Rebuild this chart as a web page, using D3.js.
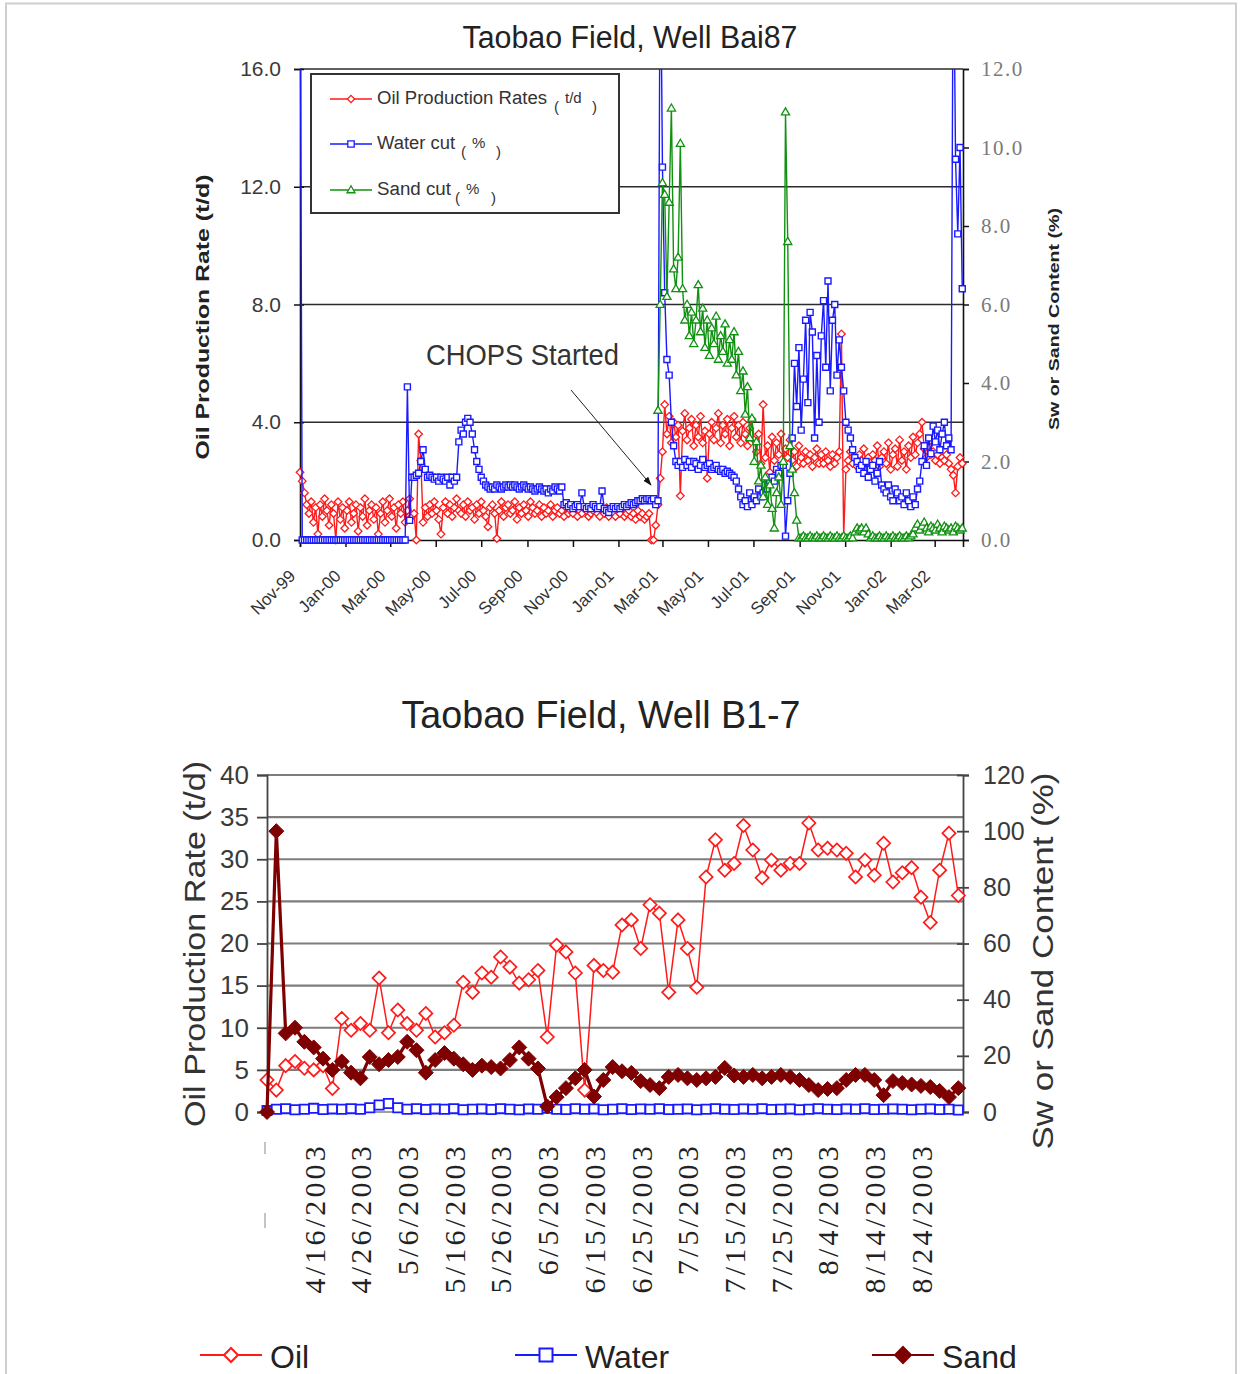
<!DOCTYPE html>
<html><head><meta charset="utf-8">
<script src="https://cdn.jsdelivr.net/npm/d3@7"></script>
<style>body{margin:0;background:#fff}svg{display:block}</style>
</head><body>
<svg id="c" width="1243" height="1374"></svg>
<script>
// ================= DATA: Taobao Field, Well Bai87 (sampled every 3 days from 1 Nov 1999) =================
const bai87Start = "1999-11-01";
const bai87StepDays = 3;
const bai87Oil = [
2.3,2.0,1.6,1.2,
0.9,1.3,0.6,1.1,0.2,1.2,0.8,1.4,1.0,0.5,
1.2,0.9,0.0,1.3,0.7,1.1,0.4,1.0,1.3,0.6,
0.9,1.2,0.3,1.1,0.8,1.4,0.5,1.0,1.2,0.7,
1.1,0.2,0.9,1.3,0.6,1.0,1.4,0.8,1.1,0.4,
1.2,0.9,1.3,0.6,1.0,1.4,0.8,
0.9,0.0,3.6,2.7,0.6,1.1,0.8,
1.2,0.9,1.3,1.0,0.7,0.2,1.1,1.3,0.9,1.2,
0.8,1.1,1.4,1.0,0.9,1.2,0.8,1.3,1.0,1.1,
0.7,1.2,0.9,1.3,1.0,0.8,0.45,1.1,1.2,0.9,
0.05,1.0,1.3,0.8,1.1,1.2,0.9,1.0,1.3,0.7,
1.1,0.9,1.2,1.0,0.8,1.3,1.1,0.9,1.0,1.2,
0.8,1.1,0.9,1.0,1.2,0.8,1.0,1.1,0.9,1.0,
0.8,1.1,0.9,
1.0,0.9,1.1,0.8,1.0,0.9,1.1,1.0,0.8,0.9,
1.0,1.1,0.9,0.8,1.0,0.9,1.1,0.8,1.0,0.9,
0.8,1.0,0.9,1.1,0.8,0.9,1.0,0.8,0.9,0.7,
1.0,0.8,0.9,0.7,0.8,0.9,
0.0,0.0,0.5,1.2,2.1,3.0,4.6,
3.6,4.2,3.3,4.0,3.5,3.9,1.5,3.7,4.3,3.4,
3.8,4.1,3.2,3.9,3.5,4.2,3.3,3.7,2.1,3.6,
4.0,3.4,3.8,4.3,3.3,3.9,3.6,4.1,3.2,3.8,
4.2,3.5,3.9,3.3,4.0,3.6,3.2,3.8,4.1,3.4,
3.0,3.6,2.6,
4.6,2.8,3.2,2.3,3.5,2.7,3.3,2.9,3.6,2.6,
3.1,2.8,3.4,2.7,3.0,2.5,3.2,2.8,2.6,3.0,
2.7,2.9,2.5,2.8,3.1,2.6,
2.9,2.6,3.0,2.7,2.5,2.9,2.6,2.8,3.0,
7.0,0.1,2.4,
2.7,3.0,2.6,2.8,2.5,2.9,2.7,3.1,2.6,2.8,
2.4,2.9,2.7,3.2,2.5,2.8,3.0,2.6,3.3,2.4,
2.9,3.1,2.5,3.4,2.7,3.0,2.4,3.2,2.8,3.5,
2.9,3.3,3.6,4.0,3.1,2.8,3.2,2.9,3.0,2.7,
2.9,2.6,2.8,2.7,2.9,2.6,2.4,2.2,1.6,2.5,
2.8,2.6
];
const bai87Water = [
16,
0,0,0,0,0,0,0,0,0,0,
0,0,0,0,0,0,0,0,0,0,
0,0,0,0,0,0,0,0,0,0,
0,0,0,0,0,0,0,0,0,0,
0,0,0,0,0,0,0,
3.9,0.5,1.6,
1.6,1.65,1.7,2.0,2.3,1.8,1.6,1.65,1.6,1.55,
1.6,1.5,1.6,1.55,1.5,1.6,1.4,1.6,1.5,1.6,
2.5,2.8,2.7,3.0,3.1,3.0,2.7,2.3,2.0,1.8,1.6,1.5,1.4,1.35,
1.3,1.35,1.3,1.4,1.35,1.3,1.35,1.4,1.35,1.4,
1.35,1.4,1.35,1.3,1.35,1.4,1.35,1.3,1.35,1.3,
1.25,1.3,1.35,1.3,1.25,1.3,1.2,1.3,1.25,1.35,
1.3,1.25,1.35,
0.9,0.95,0.85,0.9,0.8,0.85,0.9,0.85,1.2,0.85,
0.8,0.85,0.8,0.9,0.85,0.8,0.85,1.25,0.8,0.75,
0.7,0.8,0.85,0.8,0.85,0.8,0.85,0.9,0.85,0.9,
0.95,0.9,0.95,1.0,1.0,1.05,1.0,1.05,1.05,
1.0,1.05,0.9,1.0,16,9.5,6.3,4.6,4.2,3.0,2.4,2.0,
1.9,2.0,1.85,2.05,1.9,2.0,1.85,2.0,1.95,1.8,
1.9,2.05,1.85,1.9,1.95,1.8,1.85,1.9,1.8,1.75,
1.8,1.7,1.75,1.7,1.65,1.6,
1.5,1.3,1.1,0.9,1.0,0.85,1.2,0.9,1.1,1.0,
1.3,1.1,1.2,1.4,1.3,1.5,1.6,1.5,1.8,1.7,1.9,
1.9,0.1,1.0,1.7,
2.6,4.5,3.4,4.9,2.8,4.1,5.6,3.5,5.8,5.3,
2.6,4.7,3.0,5.2,6.1,4.4,6.6,3.8,5.6,6.0,4.2,5.1,
4.4,3.8,3.0,
2.8,2.6,2.3,2.1,2.0,1.8,1.9,1.7,2.0,1.6,1.8,1.9,1.5,1.7,2.0,1.4,
1.3,1.2,1.4,1.1,1.0,1.3,1.2,1.0,1.1,0.9,1.2,1.0,0.85,1.1,0.9,1.3,1.5,
2.0,2.4,1.9,2.6,2.2,2.9,2.5,2.8,2.3,2.7,3.0,2.4,2.6,
2.3,16,9.7,7.8,10.0,6.4
];
const bai87SandStartIndex = 160;
const bai87Sand = [
3.3,6.0,9.1,8.8,6.2,8.6,11.0,6.9,6.4,7.2,
10.1,6.4,5.6,6.0,5.2,5.8,5.0,5.6,6.5,5.3,
5.9,4.9,5.6,4.7,5.4,5.0,5.7,4.6,5.2,4.8,
5.5,4.5,5.1,4.6,5.3,4.2,4.8,3.8,4.3,3.2,
3.9,2.6,3.1,2.0,2.5,1.5,1.9,1.1,1.6,0.9,
1.4,0.8,0.3,1.2,1.6,0.9,2.0,10.9,7.6,2.4,
1.8,1.2,0.5,0.05,
0.05,0.1,0.05,0.05,0.1,0.05,0.05,0.1,0.05,0.05,0.1,0.05,
0.05,0.1,0.05,0.05,0.1,0.05,0.05,0.1,0.05,0.05,0.1,0.05,
0.2,0.3,0.25,0.3,0.2,0.3,0.15,
0.05,0.1,0.05,0.05,0.1,0.05,0.05,0.1,0.05,0.05,
0.1,0.05,0.05,0.1,0.05,0.05,0.1,0.05,0.1,0.15,
0.3,0.4,0.25,0.35,0.45,0.3,0.2,0.35,0.3,0.25,0.4,
0.3,0.2,0.35,0.3,0.25,0.3,0.2,0.35,0.3,0.25,0.3
];
const bai87DomainEnd = "2002-04-08";
const bai87TickLabels = ["Nov-99","Jan-00","Mar-00","May-00","Jul-00","Sep-00","Nov-00","Jan-01","Mar-01","May-01","Jul-01","Sep-01","Nov-01","Jan-02","Mar-02"];
const bai87LeftTicks = [0,4,8,12,16];
const bai87RightTicks = [0,2,4,6,8,10,12];

// ================= DATA: Taobao Field, Well B1-7 (sampled every 2 days from 6 Apr 2003) =================
const b17Start = "2003-04-06";
const b17StepDays = 2;
const b17Oil = [
3.8,2.6,5.5,6.0,5.2,5.0,5.5,2.8,11.1,9.7,
10.5,9.7,15.9,9.4,12.1,10.5,9.7,11.7,8.9,9.4,
10.3,15.4,14.2,16.5,16.0,18.4,17.2,15.3,15.7,16.8,
8.9,19.8,19.0,16.5,2.6,17.4,16.8,16.6,22.2,22.8,
19.4,24.6,23.6,14.2,22.8,19.4,14.8,27.9,32.3,28.7,
29.5,34.0,31.1,27.8,29.9,28.7,29.5,29.5,34.3,31.1,
31.3,31.1,30.7,27.9,29.9,28.1,31.9,27.3,28.4,29.0,
25.5,22.5,28.7,33.1,25.7
];
const b17Water = [
0.5,1.0,1.2,0.8,1.0,1.3,0.9,1.1,1.0,1.2,
1.0,1.5,2.5,3.0,1.5,1.0,1.2,0.9,1.1,1.0,
1.2,0.8,1.0,1.1,0.9,1.2,1.0,0.8,1.1,1.0,
1.3,1.0,0.9,1.2,1.0,1.1,0.8,1.0,1.2,0.9,
1.1,1.0,1.2,0.9,1.0,1.1,0.8,1.0,1.2,1.0,
0.9,1.1,1.0,1.2,0.9,1.0,1.1,0.8,1.0,1.2,
1.0,0.9,1.1,1.0,1.2,0.9,1.0,1.1,1.0,0.8,
1.0,1.1,0.9,1.0,0.7
];
const b17Sand = [
0,100,28,30,25,23,19,15,18,14,
12,19.6,17,18.5,19.6,25,22,14,18.5,21,
19,17,15,16.5,16,15.5,18.5,23,19,15.5,
2,5.3,8.5,12,15,5.5,11.4,16,14.5,13.9,
11,9.6,8.5,12.5,13.2,12,11.4,12,12.5,15.7,
13,12.5,13.2,12,12.5,13.2,12.5,11.4,9.6,7.8,
8.2,8.5,11.4,13.2,13.2,11.4,6,11,10.3,9.8,
9.3,8.9,7.5,5.3,8.5
];
const b17DomainDays = 149;
const b17DateLabels = ["4/16/2003","4/26/2003","5/6/2003","5/16/2003","5/26/2003","6/5/2003","6/15/2003","6/25/2003","7/5/2003","7/15/2003","7/25/2003","8/4/2003","8/14/2003","8/24/2003"];
const b17LeftTicks = [0,5,10,15,20,25,30,35,40];
const b17RightTicks = [0,20,40,60,80,100,120];

// ================= DRAWING =================
const SANS = "'Liberation Sans', Arial, sans-serif";
const SERIF = "'Liberation Serif', 'DejaVu Serif', serif";
const svg = d3.select("#c");

svg.append("rect").attr("x",6).attr("y",3.5).attr("width",1230).attr("height",1400)
  .attr("fill","none").attr("stroke","#cfcfcf").attr("stroke-width",2);

const dia = r => `M0,${-r}L${r},0L0,${r}L${-r},0Z`;
const sq = r => `M${-r},${-r}H${r}V${r}H${-r}Z`;
const tri = r => `M0,${-r}L${r*0.95},${r*0.65}L${-r*0.95},${r*0.65}Z`;

function drawSeries(g, data, x, y, o) {
  g.append("path").datum(data).attr("fill","none").attr("stroke",o.color)
    .attr("stroke-width",o.lw).attr("stroke-linejoin","round")
    .attr("d", d3.line().x(d=>x(d.date)).y(d=>y(d.v)));
  g.append("g").selectAll("path").data(data).enter().append("path")
    .attr("transform", d=>`translate(${x(d.date)},${y(d.v)})`)
    .attr("d", o.shape).attr("fill", o.fill).attr("stroke", o.color).attr("stroke-width", o.mlw);
}

// ---------- TOP CHART ----------
const T = {left:300, right:963, top:69, bottom:540};
const parseISO = d3.timeParse("%Y-%m-%d");
const t0 = parseISO(bai87Start);
const tx = d3.scaleTime().domain([t0, parseISO(bai87DomainEnd)]).range([T.left, T.right]);
const tyL = d3.scaleLinear().domain([0,16]).range([T.bottom, T.top]);
const tyR = d3.scaleLinear().domain([0,12]).range([T.bottom, T.top]);
const tDate = i => d3.timeDay.offset(t0, i*bai87StepDays);

const oilT = bai87Oil.map((v,i)=>({date:tDate(i), v}));
const waterT = bai87Water.map((v,i)=>({date:tDate(i), v}));
const sandT = bai87Sand.map((v,i)=>({date:tDate(i+bai87SandStartIndex), v}));

svg.append("text").attr("x",630).attr("y",48).attr("text-anchor","middle")
  .attr("font-family",SANS).attr("font-size",31).attr("fill","#222")
  .attr("textLength",335).attr("lengthAdjust","spacingAndGlyphs").text("Taobao Field, Well Bai87");

const gT = svg.append("g");
gT.selectAll("line.grid").data(bai87LeftTicks.filter(v=>v>0)).enter().append("line")
  .attr("x1",T.left).attr("x2",T.right).attr("y1",d=>tyL(d)).attr("y2",d=>tyL(d))
  .attr("stroke","#2b2b2b").attr("stroke-width",1.6);

const axL = gT.append("g").attr("transform",`translate(${T.left},0)`)
  .call(d3.axisLeft(tyL).tickValues(bai87LeftTicks).tickFormat(d3.format(".1f")).tickSize(6).tickPadding(13));
axL.select(".domain").attr("stroke","#111").attr("stroke-width",1.6);
axL.selectAll(".tick line").attr("stroke","#111").attr("stroke-width",1.5).attr("x2",-6).attr("x1",4);
axL.selectAll("text").attr("font-family",SANS).attr("font-size",21).attr("fill","#3a3a3a");

const axR = gT.append("g").attr("transform",`translate(${T.right},0)`)
  .call(d3.axisRight(tyR).tickValues(bai87RightTicks).tickFormat(d3.format(".1f")).tickSize(6).tickPadding(12));
axR.select(".domain").attr("stroke","#111").attr("stroke-width",1.6);
axR.selectAll(".tick line").attr("stroke","#111").attr("stroke-width",1.5);
axR.selectAll("text").attr("font-family",SERIF).attr("font-size",21).attr("fill","#7a7a7a")
  .attr("letter-spacing",1.5);

const monthParse = d3.timeParse("%b-%y");
const tickDates = bai87TickLabels.map(s=>monthParse(s));
const axB = gT.append("g").attr("transform",`translate(0,${T.bottom})`)
  .call(d3.axisBottom(tx).tickValues(tickDates).tickFormat((d,i)=>bai87TickLabels[i]).tickSize(7));
axB.select(".domain").attr("stroke","#111").attr("stroke-width",1.6);
axB.selectAll(".tick line").attr("stroke","#111").attr("stroke-width",1.5);
axB.selectAll("text").attr("font-family",SANS).attr("font-size",17).attr("fill","#333")
  .attr("text-anchor","end").attr("x",0).attr("y",0).attr("dy",0)
  .attr("transform","translate(-4,37) rotate(-45)");

// Axis titles
svg.append("text").attr("transform","translate(209,317) rotate(-90)").attr("text-anchor","middle")
  .attr("font-family",SANS).attr("font-weight","bold").attr("font-size",19).attr("fill","#222")
  .attr("textLength",285).attr("lengthAdjust","spacingAndGlyphs").text("Oil Production Rate (t/d)");
svg.append("text").attr("transform","translate(1059,319) rotate(-90)").attr("text-anchor","middle")
  .attr("font-family",SANS).attr("font-weight","bold").attr("font-size",15).attr("fill","#222")
  .attr("textLength",222).attr("lengthAdjust","spacingAndGlyphs").text("Sw or Sand Content (%)");

// clip
svg.append("defs").append("clipPath").attr("id","clipT").append("rect")
  .attr("x",T.left-5).attr("y",T.top).attr("width",T.right-T.left+10).attr("height",T.bottom-T.top+7);
const plotT = svg.append("g").attr("clip-path","url(#clipT)");
drawSeries(plotT, oilT, tx, tyL, {color:"#ff1a1a", lw:1.4, shape:dia(3.8), fill:"#fff", mlw:1.3});
drawSeries(plotT, waterT, tx, tyR, {color:"#1a1aff", lw:1.4, shape:sq(3.0), fill:"#fff", mlw:1.4});
drawSeries(plotT, sandT, tx, tyR, {color:"#119111", lw:1.4, shape:tri(4.3), fill:"#fff", mlw:1.3});

// Legend (top)
const lg = svg.append("g");
lg.append("rect").attr("x",311).attr("y",74).attr("width",308).attr("height",139)
  .attr("fill","#fff").attr("stroke","#333").attr("stroke-width",2);
const legT = [
  {name:"Oil Production Rates", unit:"t/d", color:"#ff1a1a", shape:dia(3.6), y:99, tl:170, ux:[554,565,592]},
  {name:"Water cut", unit:"%", color:"#1a1aff", shape:sq(3.2), y:144, tl:78, ux:[461,472,496]},
  {name:"Sand cut", unit:"%", color:"#119111", shape:tri(4.2), y:190, tl:74, ux:[455,466,491]}
];
legT.forEach(e=>{
  lg.append("line").attr("x1",330).attr("x2",372).attr("y1",e.y).attr("y2",e.y).attr("stroke",e.color).attr("stroke-width",1.5);
  lg.append("path").attr("transform",`translate(351,${e.y})`).attr("d",e.shape).attr("fill","#fff").attr("stroke",e.color).attr("stroke-width",1.3);
  lg.append("text").attr("x",377).attr("y",e.y+5).attr("font-family",SANS).attr("font-size",18).attr("fill","#333")
    .attr("textLength",e.tl).attr("lengthAdjust","spacingAndGlyphs").text(e.name);
  lg.append("text").attr("x",e.ux[0]).attr("y",e.y+13).attr("font-family",SANS).attr("font-size",15).attr("fill","#333").text("(");
  lg.append("text").attr("x",e.ux[1]).attr("y",e.y+4).attr("font-family",SANS).attr("font-size",15).attr("fill","#333").text(e.unit);
  lg.append("text").attr("x",e.ux[2]).attr("y",e.y+13).attr("font-family",SANS).attr("font-size",15).attr("fill","#333").text(")");
});

// Annotation
svg.append("defs").append("marker").attr("id","arr").attr("viewBox","0 0 10 10").attr("refX",9).attr("refY",5)
  .attr("markerWidth",9).attr("markerHeight",9).attr("orient","auto")
  .append("path").attr("d","M0,1.5L10,5L0,8.5Z").attr("fill","#111");
svg.append("text").attr("x",426).attr("y",365).attr("font-family",SANS).attr("font-size",29).attr("fill","#333")
  .attr("textLength",193).attr("lengthAdjust","spacingAndGlyphs").text("CHOPS Started");
svg.append("line").attr("x1",571).attr("y1",390).attr("x2",651).attr("y2",485)
  .attr("stroke","#222").attr("stroke-width",1).attr("marker-end","url(#arr)");

// ---------- BOTTOM CHART ----------
const B = {left:267, right:963, top:775, bottom:1112};
const b0 = parseISO(b17Start);
const bx = d3.scaleTime().domain([b0, d3.timeDay.offset(b0, b17DomainDays)]).range([B.left, B.right]);
const byL = d3.scaleLinear().domain([0,40]).range([B.bottom, B.top]);
const byR = d3.scaleLinear().domain([0,120]).range([B.bottom, B.top]);
const bDate = i => d3.timeDay.offset(b0, i*b17StepDays);
const oilB = b17Oil.map((v,i)=>({date:bDate(i), v}));
const waterB = b17Water.map((v,i)=>({date:bDate(i), v}));
const sandB = b17Sand.map((v,i)=>({date:bDate(i), v}));

svg.append("text").attr("x",601).attr("y",728).attr("text-anchor","middle")
  .attr("font-family",SANS).attr("font-size",39).attr("fill","#222")
  .attr("textLength",399).attr("lengthAdjust","spacingAndGlyphs").text("Taobao Field, Well B1-7");

const gB = svg.append("g");
gB.selectAll("line.grid").data(b17LeftTicks.filter(v=>v>0)).enter().append("line")
  .attr("x1",B.left).attr("x2",B.right).attr("y1",d=>byL(d)).attr("y2",d=>byL(d))
  .attr("stroke","#7d7d7d").attr("stroke-width",2.2);
gB.append("line").attr("x1",B.left).attr("x2",B.right).attr("y1",B.bottom).attr("y2",B.bottom)
  .attr("stroke","#7d7d7d").attr("stroke-width",1.5);

const bL = gB.append("g").attr("transform",`translate(${B.left},0)`)
  .call(d3.axisLeft(byL).tickValues(b17LeftTicks).tickSize(10).tickPadding(8));
bL.select(".domain").attr("stroke","#444").attr("stroke-width",1.8);
bL.selectAll(".tick line").attr("stroke","#444").attr("stroke-width",1.8);
bL.selectAll("text").attr("font-family",SANS).attr("font-size",26).attr("fill","#3a3a3a");

const bR = gB.append("g").attr("transform",`translate(${B.right},0)`)
  .call(d3.axisRight(byR).tickValues(b17RightTicks).tickSize(6).tickPadding(14));
bR.select(".domain").attr("stroke","#444").attr("stroke-width",1.8);
bR.selectAll(".tick line").attr("stroke","#444").attr("stroke-width",1.8).attr("x1",-6);
bR.selectAll("text").attr("font-family",SANS).attr("font-size",25).attr("fill","#3a3a3a");

// x labels (rotated, serif)
const labParse = d3.timeParse("%m/%d/%Y");
gB.selectAll("text.xl").data(b17DateLabels).enter().append("text")
  .attr("transform", d=>`translate(${bx(labParse(d))},1143) rotate(-90)`)
  .attr("text-anchor","end").attr("dy","0.36em")
  .style("font-family",SERIF).attr("font-size",30).attr("fill","#222").attr("letter-spacing",3.2)
  .text(d=>d);
// faint clipped first label remnants
gB.append("line").attr("x1",265).attr("x2",265).attr("y1",1142).attr("y2",1154).attr("stroke","#c4c4c4").attr("stroke-width",2);
gB.append("line").attr("x1",265).attr("x2",265).attr("y1",1213).attr("y2",1228).attr("stroke","#c4c4c4").attr("stroke-width",2);

svg.append("text").attr("transform","translate(205,944) rotate(-90)").attr("text-anchor","middle")
  .attr("font-family",SANS).attr("font-size",30).attr("fill","#333")
  .attr("textLength",366).attr("lengthAdjust","spacingAndGlyphs").text("Oil Production Rate (t/d)");
svg.append("text").attr("transform","translate(1053,961) rotate(-90)").attr("text-anchor","middle")
  .attr("font-family",SANS).attr("font-size",30).attr("fill","#333")
  .attr("textLength",377).attr("lengthAdjust","spacingAndGlyphs").text("Sw or Sand Content (%)");

const plotB = svg.append("g");
drawSeries(plotB, waterB, bx, byR, {color:"#1a1aff", lw:1.8, shape:sq(4.6), fill:"#fff", mlw:1.8});
drawSeries(plotB, oilB, bx, byL, {color:"#ff1a1a", lw:1.5, shape:dia(6.6), fill:"#fff", mlw:1.7});
drawSeries(plotB, sandB, bx, byR, {color:"#7f0000", lw:3.2, shape:dia(7.5), fill:"#7f0000", mlw:1});

// Legend (bottom)
const legB = [
  {name:"Oil", x:200, color:"#ff1a1a", shape:dia(7), fill:"#fff"},
  {name:"Water", x:515, color:"#1a1aff", shape:sq(6.5), fill:"#fff"},
  {name:"Sand", x:872, color:"#7f0000", shape:dia(8), fill:"#7f0000"}
];
legB.forEach(e=>{
  svg.append("line").attr("x1",e.x).attr("x2",e.x+62).attr("y1",1355).attr("y2",1355).attr("stroke",e.color).attr("stroke-width",2.2);
  svg.append("path").attr("transform",`translate(${e.x+31},1355)`).attr("d",e.shape).attr("fill",e.fill).attr("stroke",e.color).attr("stroke-width",2);
  svg.append("text").attr("x",e.x+70).attr("y",1368).attr("font-family",SANS).attr("font-size",32).attr("fill","#222").text(e.name);
});
</script>
</body></html>
